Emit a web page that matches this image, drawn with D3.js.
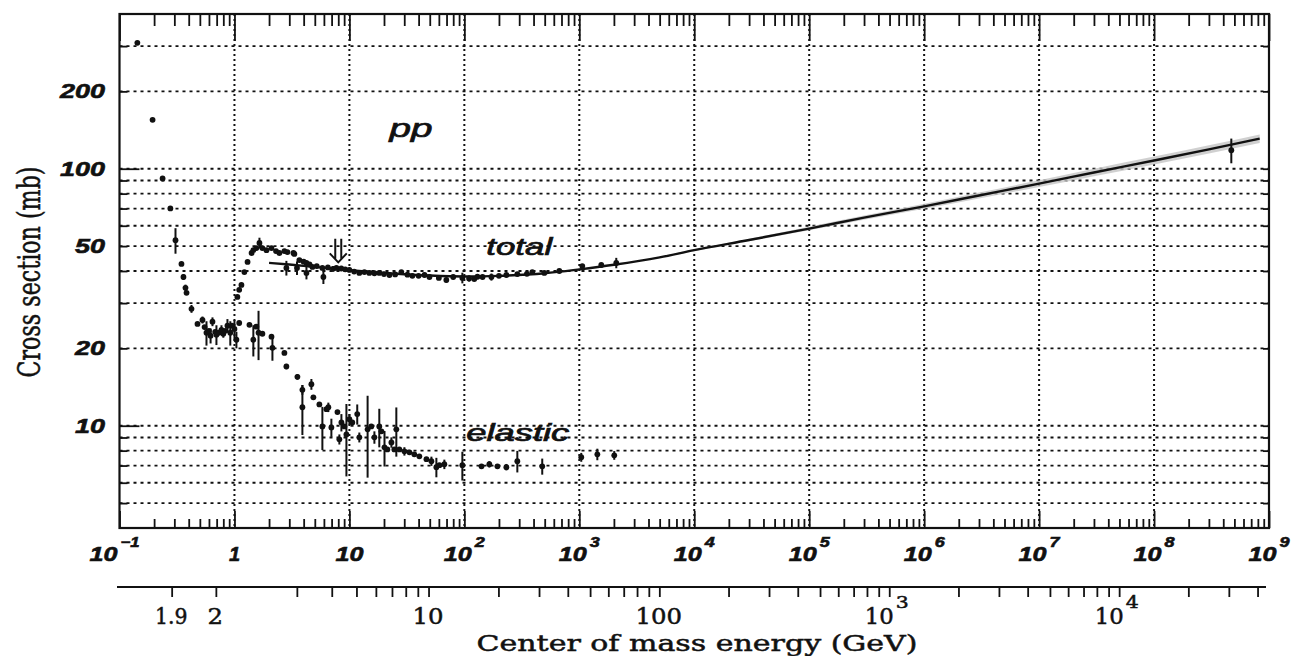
<!DOCTYPE html>
<meta charset="utf-8">
<title>pp total and elastic cross section</title>
<style type="text/css">
	body { margin: 0; background: #fff; }
</style>
<body>
<script src="https://d3js.org/d3.v7.min.js"></script>
<script>

// ---- data: [p_lab (GeV/c), sigma (mb), error (mb)] ----

// below the inelastic threshold total = elastic
var lowPts = [
	[0.143, 309, 0], [0.194, 155, 0], [0.237, 91.6, 0], [0.277, 70.1, 0],
	[0.307, 52.7, 6], [0.346, 42.6, 0], [0.360, 37.9, 1], [0.375, 34.4, 1],
	[0.383, 32.9, 0], [0.423, 28.5, 1], [0.477, 24.9, 0], [0.527, 25.8, 0.8],
	[0.55, 24.2, 0], [0.571, 23.0, 2.5], [0.60, 23.4, 0], [0.62, 22.4, 1.5],
	[0.644, 25.4, 1], [0.68, 23.2, 0], [0.697, 22.6, 2], [0.73, 23.0, 0],
	[0.771, 23.6, 1], [0.80, 22.8, 0.8], [0.83, 23.4, 0], [0.869, 24.5, 1.5],
	[0.92, 23.0, 2.5], [0.95, 24.5, 0], [1.0, 23.8, 2]
];

var totalPts = [
	[1.06, 31.7, 0], [1.10, 33.8, 0], [1.15, 35.3, 0], [1.22, 39.6, 0],
	[1.30, 43.4, 0], [1.41, 47.0, 0], [1.46, 48.2, 0], [1.55, 49.1, 0],
	[1.65, 51.4, 2.5], [1.75, 49.1, 0], [1.90, 48.2, 1], [2.10, 49.1, 0],
	[2.30, 47.8, 0], [2.46, 47.0, 0], [2.72, 47.8, 0], [2.83, 41.1, 2.7],
	[2.89, 47.4, 0], [3.26, 47.0, 0], [3.32, 46.6, 0], [3.50, 41.1, 2.5],
	[3.67, 44.1, 0], [4.0, 43.5, 0], [4.23, 43.0, 0], [4.23, 39.3, 2.2],
	[4.5, 42.4, 0], [4.77, 41.5, 0], [5.2, 41.8, 0], [5.82, 41.1, 0],
	[5.94, 37.9, 2.3], [6.5, 41.3, 0], [7.2, 40.8, 1], [7.71, 41.1, 0],
	[8.5, 40.9, 0], [9.2, 40.6, 0], [10.0, 40.4, 0.8], [11, 39.8, 0],
	[12.2, 39.3, 0], [13.5, 39.6, 0], [14.9, 39.3, 0], [16.5, 39.2, 0],
	[18.2, 39.3, 0], [20, 38.9, 0], [22.3, 38.6, 0], [25, 38.8, 0],
	[28.3, 39.6, 0.6], [32, 38.7, 0], [35.3, 38.3, 0], [40, 38.3, 0],
	[45, 38.6, 0.8], [49.7, 37.9, 0], [60, 37.6, 0], [69.7, 36.9, 0.8],
	[80, 37.9, 0.5], [96.1, 37.6, 1.8], [110, 37.4, 1], [122, 37.2, 0],
	[130, 38.0, 0.8], [144, 37.9, 0], [172, 37.9, 1.2], [200, 38.3, 0],
	[232, 38.6, 0], [289, 38.9, 0], [350, 39.0, 0], [390, 39.6, 0],
	[496, 39.3, 0], [670, 40.0, 0], [1062, 41.8, 0], [1553, 42.2, 0],
	[2097, 43.0, 2]
];

// cosmic ray point
var cosmicPts = [[4.7e8, 118, 13]];

var elasticPts = [
	[1.04, 21.6, 1.6], [1.10, 25.1, 0], [1.35, 24.7, 0], [1.46, 21.6, 3],
	[1.55, 24.3, 0], [1.62, 23.0, 5], [1.75, 22.8, 0], [2.10, 22.2, 0],
	[2.14, 20.1, 2.2], [2.72, 19.2, 0], [2.83, 17.0, 0.4], [3.53, 15.5, 0.4],
	[3.90, 13.8, 0.6], [3.90, 11.8, 2.6], [4.67, 14.5, 0.7], [4.86, 12.9, 0],
	[5.48, 12.1, 0], [5.82, 9.94, 1.9], [6.31, 11.6, 0], [6.56, 11.8, 0.5],
	[6.97, 9.85, 0.8], [7.87, 11.3, 0], [8.18, 8.85, 0.4], [8.52, 10.3, 0.8],
	[9.05, 9.94, 0], [9.42, 9.25, 2.9], [10.0, 10.6, 0.5], [10.6, 10.3, 0],
	[11.7, 11.1, 1.0], [12.2, 9.01, 0.4], [14.4, 9.68, 3.4], [15.5, 9.94, 0],
	[16.5, 9.01, 0.5], [18.2, 9.94, 1.7], [19.0, 9.51, 0], [20.2, 8.24, 1.3],
	[21.4, 8.09, 0], [23.2, 8.61, 0.4], [24.6, 8.09, 0], [25.6, 9.68, 2.1],
	[27.2, 8.09, 0], [30.1, 7.95, 0.3], [33.3, 7.88, 0], [36.7, 7.74, 0],
	[40.6, 7.60, 0], [46.8, 7.41, 0], [51.7, 7.28, 0.3], [57.1, 6.90, 0.6],
	[60.7, 7.02, 0], [67.0, 7.08, 0.3], [96.1, 7.02, 0.9], [141, 6.95, 0],
	[165, 7.08, 0.2], [194, 6.95, 0], [232, 6.90, 0.2], [289, 7.28, 0.7],
	[476, 6.95, 0.5], [1040, 7.54, 0.3], [1435, 7.74, 0.4], [2014, 7.67, 0.3]
];

// fitted total cross section and its uncertainty band
var fitP    = [2, 3, 5, 7, 10, 20, 50, 100, 200, 500, 1e3, 2e3, 5e3, 1e4, 3e4, 1e5, 3e5, 1e6, 3e6, 1e7, 3e7, 1e8, 3e8, 8.3e8];
var fitSig  = [43.0, 42.4, 41.5, 40.9, 40.3, 39.3, 38.4, 38.1, 38.3, 39.2, 40.6, 42.3, 45.2, 48.2, 52.8, 58.5, 64.5, 71.4, 78.7, 87.5, 96.7, 107.7, 119, 131];
var fitBand = [0, 0, 0, 0, 0, 0, 0, 0, 0, 0, 0, 0, 0.2, 0.4, 0.6, 0.9, 1.2, 1.6, 2.1, 2.6, 3.2, 3.8, 4.4, 5.0];

// axes
var xDecades = [-1, 0, 1, 2, 3, 4, 5, 6, 7, 8, 9];
var yGrid = [5, 6, 7, 8, 9, 10, 20, 30, 40, 50, 60, 70, 80, 90, 100, 200, 300];
var yLabels = [10, 20, 50, 100, 200];
var cmTicks = [1.9, 2, 3, 4, 5, 6, 7, 8, 9, 10, 20, 30, 40, 50, 60, 70, 80, 90,
	100, 200, 300, 400, 500, 600, 700, 800, 900, 1000, 2000, 3000, 4000, 5000,
	6000, 7000, 8000, 9000, 10000, 20000, 30000, 40000];
var cmLabels = [[1.9, "1.9", ""], [2, "2", ""], [10, "10", ""], [100, "100", ""], [1000, "10", "3"], [10000, "10", "4"]];

// text notes in data coordinates: [text, p, sigma, width]
var notes = [["pp", 22.3, 133, 43], ["total", 155, 46.1, 66], ["elastic", 104, 8.7, 103]];
var arrowAt = [8.0, 53.4, 43.2];

// ---- drawing ----
var W = 1294, H = 656;
var frame = {left: 119.5, right: 1269, top: 14, bottom: 528};
var ink = "#111";
var sans = "'Liberation Sans', Arial, sans-serif";
var serif = "'DejaVu Serif', 'Liberation Serif', serif";
var mp = 0.938;

// lab momentum for a given centre of mass energy
function plab(w) {
	var e = (w * w - 2 * mp * mp) / (2 * mp);
	return Math.sqrt(e * e - mp * mp);
}

var svg = d3.select("body").append("svg")
		.attr("width", W)
		.attr("height", H);

var x = d3.scaleLog().domain([0.1, 1e9]).range([frame.left, frame.right]);
var y = d3.scaleLog().domain([4, 400]).range([frame.bottom, frame.top]);

// grid
svg.append("g").selectAll("line")
		.data(xDecades.slice(1, -1))
		.join("line")
		.attr("x1", function(d) { return x(Math.pow(10, d)); })
		.attr("x2", function(d) { return x(Math.pow(10, d)); })
		.attr("y1", frame.top)
		.attr("y2", frame.bottom)
		.attr("stroke", ink)
		.attr("stroke-width", 2)
		.attr("stroke-dasharray", "2,3");

svg.append("g").selectAll("line")
		.data(yGrid)
		.join("line")
		.attr("x1", frame.left)
		.attr("x2", frame.right)
		.attr("y1", function(d) { return y(d); })
		.attr("y2", function(d) { return y(d); })
		.attr("stroke", ink)
		.attr("stroke-width", 1.8)
		.attr("stroke-dasharray", "3,4");

// frame ticks, drawn with d3 axes
var minorX = [];
xDecades.forEach(function(e) {
	if (e < 9) for (var k = 2; k <= 9; k++) minorX.push(k * Math.pow(10, e));
});
var majorX = xDecades.map(function(e) { return Math.pow(10, e); });

function tickAxis(axis, tx, ty) {
	svg.append("g")
			.attr("transform", "translate(" + tx + "," + ty + ")")
			.call(axis.tickFormat(function() { return ""; }).tickSizeOuter(0))
			.call(function(g) { g.select(".domain").remove(); })
			.selectAll("line")
			.attr("stroke", ink)
			.attr("stroke-width", 1.8);
}
tickAxis(d3.axisBottom(x).tickValues(minorX).tickSize(12), 0, frame.top);
tickAxis(d3.axisBottom(x).tickValues(majorX).tickSize(27), 0, frame.top);
tickAxis(d3.axisTop(x).tickValues(minorX).tickSize(9), 0, frame.bottom);
tickAxis(d3.axisTop(x).tickValues(majorX).tickSize(17), 0, frame.bottom);
tickAxis(d3.axisRight(y).tickValues(yGrid.filter(function(v) { return v !== 10 && v !== 100; })).tickSize(8), frame.left, 0);
tickAxis(d3.axisRight(y).tickValues([10, 100]).tickSize(20), frame.left, 0);
tickAxis(d3.axisLeft(y).tickValues(yGrid).tickSize(6), frame.right, 0);

svg.append("rect")
		.attr("x", frame.left)
		.attr("y", frame.top)
		.attr("width", frame.right - frame.left)
		.attr("height", frame.bottom - frame.top)
		.attr("fill", "none")
		.attr("stroke", ink)
		.attr("stroke-width", 2.2);

// fit band and fit line
var fit = fitP.map(function(p, i) { return {p: p, s: fitSig[i], b: fitBand[i]}; });

svg.append("path")
		.datum(fit.filter(function(d) { return d.p >= 2000; }))
		.attr("d", d3.area()
				.x(function(d) { return x(d.p); })
				.y0(function(d) { return y(d.s - d.b); })
				.y1(function(d) { return y(d.s + d.b); })
				.curve(d3.curveMonotoneX))
		.attr("fill", "#c4c4c4")
		.attr("opacity", 0.8);

svg.append("path")
		.datum(fit)
		.attr("d", d3.line()
				.x(function(d) { return x(d.p); })
				.y(function(d) { return y(d.s); })
				.curve(d3.curveMonotoneX))
		.attr("fill", "none")
		.attr("stroke", ink)
		.attr("stroke-width", 2.4);

// points with error bars
function drawPts(pts) {
	var g = svg.append("g");
	g.selectAll("line")
			.data(pts.filter(function(d) { return d[2] > 0; }))
			.join("line")
			.attr("x1", function(d) { return x(d[0]); })
			.attr("x2", function(d) { return x(d[0]); })
			.attr("y1", function(d) { return y(d[1] - d[2]); })
			.attr("y2", function(d) { return y(d[1] + d[2]); })
			.attr("stroke", ink)
			.attr("stroke-width", 2);
	g.selectAll("circle")
			.data(pts)
			.join("circle")
			.attr("cx", function(d) { return x(d[0]); })
			.attr("cy", function(d) { return y(d[1]); })
			.attr("r", 2.9)
			.attr("fill", ink);
}
drawPts(lowPts);
drawPts(totalPts);
drawPts(elasticPts);
drawPts(cosmicPts);

// double arrow
var ax = x(arrowAt[0]), ay1 = y(arrowAt[1]), ay2 = y(arrowAt[2]);
svg.append("path")
		.attr("d", "M" + (ax - 3) + "," + ay1 + "V" + (ay2 - 3) +
				"M" + (ax + 3) + "," + ay1 + "V" + (ay2 - 3) +
				"M" + (ax - 8.5) + "," + (ay2 - 9) + "L" + ax + "," + ay2 + "L" + (ax + 8.5) + "," + (ay2 - 9))
		.attr("fill", "none")
		.attr("stroke", ink)
		.attr("stroke-width", 2);

// notes
svg.append("g").selectAll("text")
		.data(notes)
		.join("text")
		.attr("x", function(d) { return x(d[1]); })
		.attr("y", function(d) { return y(d[2]); })
		.attr("font-family", sans)
		.attr("font-style", "italic")
		.attr("font-size", function(d) { return d[0] === "pp" ? 26 : 24; })
		.attr("textLength", function(d) { return d[3]; })
		.attr("lengthAdjust", "spacingAndGlyphs")
		.attr("fill", ink)
		.attr("stroke", ink)
		.attr("stroke-width", 0.7)
		.text(function(d) { return d[0]; });

// top (lab momentum) tick labels
var lab = svg.append("g")
		.attr("font-family", sans)
		.attr("font-weight", "bold")
		.attr("font-style", "italic")
		.attr("fill", ink)
		.attr("stroke", ink)
		.attr("stroke-width", 0.6);

xDecades.forEach(function(e) {
	var tx = x(Math.pow(10, e));
	if (e === 0) {
		lab.append("text").attr("x", tx).attr("y", 561).attr("text-anchor", "middle")
				.attr("font-size", 20).text("1");
	} else if (e === 1) {
		lab.append("text").attr("x", tx).attr("y", 561).attr("text-anchor", "middle")
				.attr("font-size", 20).attr("textLength", 28).attr("lengthAdjust", "spacingAndGlyphs").text("10");
	} else {
		var sw = e < 0 ? 19 : 10;
		var x0 = tx - (28 + 3 + sw) / 2 - (e < 0 ? 5 : 0);
		lab.append("text").attr("x", x0).attr("y", 561)
				.attr("font-size", 20).attr("textLength", 28).attr("lengthAdjust", "spacingAndGlyphs").text("10");
		lab.append("text").attr("x", x0 + 31).attr("y", 547)
				.attr("font-size", 14).attr("textLength", sw).attr("lengthAdjust", "spacingAndGlyphs")
				.text(e < 0 ? "\u2212" + "1" : String(e));
	}
});

// y tick labels
lab.selectAll(".ylab")
		.data(yLabels)
		.join("text")
		.attr("class", "ylab")
		.attr("x", 105)
		.attr("y", function(d) { return y(d) + 7; })
		.attr("text-anchor", "end")
		.attr("font-size", 20)
		.attr("textLength", function(d) { return String(d).length * 15; })
		.attr("lengthAdjust", "spacingAndGlyphs")
		.text(function(d) { return d; });

// centre of mass energy axis
var cmY = 587;
var cm = svg.append("g").attr("font-family", serif).attr("fill", ink);

cm.append("line")
		.attr("x1", 117).attr("x2", 1266)
		.attr("y1", cmY).attr("y2", cmY)
		.attr("stroke", ink).attr("stroke-width", 2);

cm.selectAll("line.tk")
		.data(cmTicks)
		.join("line")
		.attr("class", "tk")
		.attr("x1", function(d) { return x(plab(d)) - 3; })
		.attr("x2", function(d) { return x(plab(d)) - 3; })
		.attr("y1", cmY)
		.attr("y2", cmY + 10)
		.attr("stroke", ink)
		.attr("stroke-width", 1.8);

var cmText = cm.append("g").attr("stroke", ink).attr("stroke-width", 0.5);

cmLabels.forEach(function(d) {
	var tx = x(plab(d[0])) - 4;
	var bw = d[1].length * 15.5 + (d[1] === "1.9" ? -14 : 0);
	if (d[2] === "") {
		cmText.append("text").attr("x", tx).attr("y", 624).attr("text-anchor", "middle")
				.attr("font-size", 23).attr("textLength", bw).attr("lengthAdjust", "spacingAndGlyphs").text(d[1]);
	} else {
		var x0 = tx - 24;
		cmText.append("text").attr("x", x0).attr("y", 624)
				.attr("font-size", 23).attr("textLength", 29).attr("lengthAdjust", "spacingAndGlyphs").text(d[1]);
		cmText.append("text").attr("x", x0 + 31).attr("y", 608)
				.attr("font-size", 17).attr("textLength", 13).attr("lengthAdjust", "spacingAndGlyphs").text(d[2]);
	}
});

cmText.append("text")
		.attr("x", 697)
		.attr("y", 651)
		.attr("text-anchor", "middle")
		.attr("font-size", 23)
		.attr("textLength", 441)
		.attr("lengthAdjust", "spacingAndGlyphs")
		.text("Center of mass energy (GeV)");

// y axis title
svg.append("text")
		.attr("transform", "translate(40,272) rotate(-90) scale(1,1.3)")
		.attr("text-anchor", "middle")
		.attr("font-family", serif)
		.attr("font-size", 24)
		.attr("textLength", 211)
		.attr("lengthAdjust", "spacingAndGlyphs")
		.attr("fill", ink)
		.attr("stroke", ink)
		.attr("stroke-width", 0.4)
		.text("Cross section (mb)");

</script>
</body>
